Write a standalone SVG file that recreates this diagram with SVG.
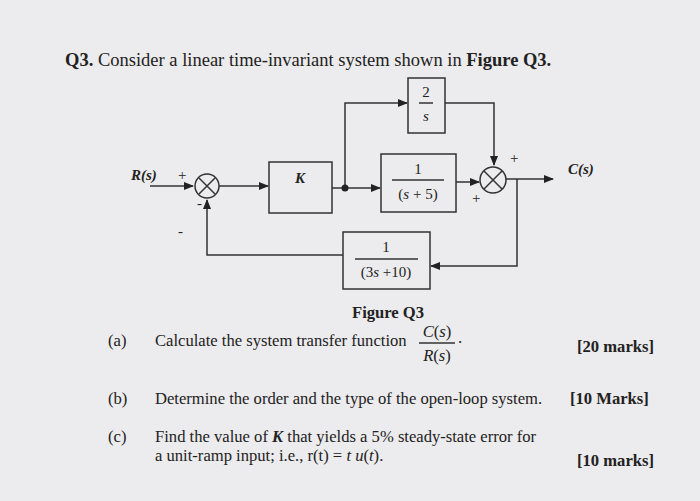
<svg xmlns="http://www.w3.org/2000/svg" width="700" height="501" viewBox="0 0 700 501">
<defs><marker id="a" markerWidth="10" markerHeight="8" refX="9" refY="4" orient="auto" markerUnits="userSpaceOnUse"><path d="M0,0L10,4L0,8z" fill="#222"/></marker></defs>
<style>text{font-family:"Liberation Serif",serif;fill:#222}.b{fill:none;stroke:#333;stroke-width:1.5}.l{fill:none;stroke:#333;stroke-width:1.5}.t{font-size:16.6px}.s{font-size:15px}</style>
<rect width="700" height="501" fill="#ecebed"/>
<text x="65" y="66" font-size="18.5"><tspan font-weight="bold">Q3.</tspan> Consider a linear time-invariant system shown in <tspan font-weight="bold">Figure Q3.</tspan></text>
<g id="connectors" class="l">
<path d="M150,186H193" marker-end="url(#a)"/>
<path d="M219,186H268" marker-end="url(#a)"/>
<path d="M332,188H380" marker-end="url(#a)"/>
<path d="M345,188V103H407" marker-end="url(#a)"/>
<path d="M445,103H494V165" marker-end="url(#a)"/>
<path d="M456,182H479" marker-end="url(#a)"/>
<path d="M506,179H553" marker-end="url(#a)"/>
<path d="M517,179V266H431" marker-end="url(#a)"/>
<path d="M343,255H207V200" marker-end="url(#a)"/>
</g>
<circle cx="345" cy="188" r="3.5" fill="#222"/>
<g id="sum1"><circle cx="207" cy="186" r="12" class="b"/><path d="M199,178L215,194M215,178L199,194" class="l"/><text x="178" y="180" class="s">+</text><text x="197" y="208" class="s">-</text><text x="178" y="236" class="s">-</text></g>
<g id="sum2"><circle cx="493" cy="180" r="13" class="b"/><path d="M484,171L502,189M502,171L484,189" class="l"/><text x="510" y="163" class="s">+</text><text x="472" y="203" class="s">+</text></g>
<g id="K"><rect x="269" y="162" width="63" height="51" class="b"/><text x="300" y="183" class="s" font-weight="bold" font-style="italic" text-anchor="middle">K</text></g>
<g id="G2s"><rect x="408" y="78" width="37" height="55" class="b"/><text x="426" y="97" class="s" text-anchor="middle">2</text><path d="M419,103H433" class="l" stroke-width="1"/><text x="426" y="121" class="s" font-style="italic" text-anchor="middle">s</text></g>
<g id="G1"><rect x="381" y="154" width="75" height="58" class="b"/><text x="418" y="174" class="s" text-anchor="middle">1</text><path d="M392,180H444" class="l" stroke-width="1"/><text x="418" y="199" class="s" text-anchor="middle">(<tspan font-style="italic">s</tspan> + 5)</text></g>
<g id="H"><rect x="343" y="232" width="87" height="57" class="b"/><text x="386" y="252" class="s" text-anchor="middle">1</text><path d="M355,259H418" class="l" stroke-width="1"/><text x="386" y="277" class="s" text-anchor="middle">(3<tspan font-style="italic">s</tspan> +10)</text></g>
<text x="131" y="180" class="s" font-weight="bold" font-style="italic">R(s)</text>
<text x="568" y="174" class="s" font-weight="bold" font-style="italic">C(s)</text>
<text x="352" y="318" class="t" font-weight="bold">Figure Q3</text>
<text x="108" y="346" class="t">(a)</text>
<text x="155" y="346" class="t">Calculate the system transfer function</text>
<text x="437" y="337" class="t" text-anchor="middle"><tspan font-style="italic">C</tspan>(<tspan font-style="italic">s</tspan>)</text>
<path d="M419,343H455" class="l" stroke-width="1"/>
<text x="437" y="361" class="t" text-anchor="middle"><tspan font-style="italic">R</tspan>(<tspan font-style="italic">s</tspan>)</text>
<text x="458" y="343" class="t">.</text>
<text x="577" y="352" class="t" font-weight="bold">[20 marks]</text>
<text x="108" y="404" class="t">(b)</text>
<text x="155" y="404" class="t">Determine the order and the type of the open-loop system.</text>
<text x="570" y="404" class="t" font-weight="bold">[10 Marks]</text>
<text x="108" y="442" class="t">(c)</text>
<text x="155" y="442" class="t">Find the value of <tspan font-weight="bold" font-style="italic">K</tspan> that yields a 5% steady-state error for</text>
<text x="155" y="461" class="t">a unit-ramp input; i.e., r(t) = <tspan font-style="italic">t u</tspan>(<tspan font-style="italic">t</tspan>).</text>
<text x="577" y="466" class="t" font-weight="bold">[10 marks]</text>
</svg>
